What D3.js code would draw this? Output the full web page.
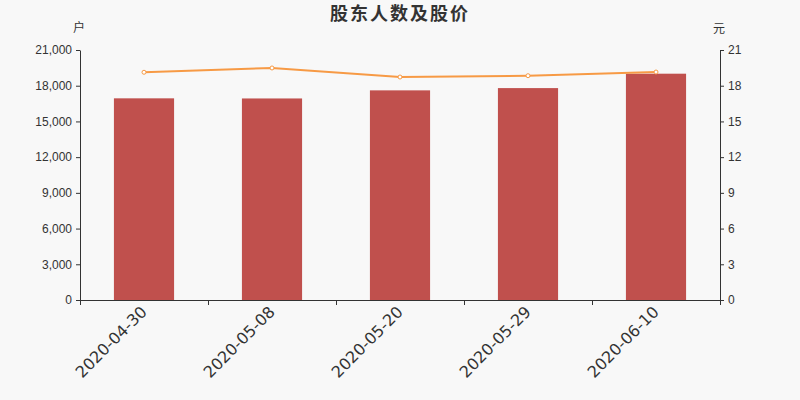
<!DOCTYPE html>
<html>
<head>
<meta charset="utf-8">
<script src="https://cdn.jsdelivr.net/npm/d3@7"></script>
<style>
  body { margin: 0; background: #f8f8f8; }
  svg { display: block; font-family: "DejaVu Sans", "Noto Sans CJK SC", sans-serif; }
  .axis text { fill: #333; font-size: 12px; }
  .axis path, .axis line { stroke: #333; }
</style>
</head>
<body>
<div id="the_chart"></div>
<script>
var dates = ["2020-04-30", "2020-05-08", "2020-05-20", "2020-05-29", "2020-06-10"];
var holders = [16940, 16930, 17610, 17800, 19010];
var prices = [19.13, 19.49, 18.73, 18.84, 19.15];
var leftTicks = [0, 3000, 6000, 9000, 12000, 15000, 18000, 21000];
var rightTicks = [0, 3, 6, 9, 12, 15, 18, 21];

var w = 800;
var h = 400;
var padL = 80, padR = 720, padT = 50, padB = 300;

var svg = d3.select("#the_chart")
  .append("svg")
  .attr("width", w)
  .attr("height", h);

svg.append("rect")
  .attr("width", w)
  .attr("height", h)
  .attr("fill", "#f8f8f8");

var xscale = d3.scaleBand()
  .domain(dates)
  .range([padL, padR])
  .paddingInner(0.53)
  .paddingOuter(0.265);

var yleft = d3.scaleLinear()
  .domain([0, 21000])
  .range([padB, padT]);

var yright = d3.scaleLinear()
  .domain([0, 21])
  .range([padB, padT]);

// title
svg.append("text")
  .attr("x", w / 2)
  .attr("y", 14)
  .attr("dy", "0.35em")
  .attr("text-anchor", "middle")
  .attr("font-family", "'Noto Sans CJK SC', sans-serif")
  .attr("font-size", 18)
  .attr("font-weight", "bold")
  .attr("letter-spacing", 2)
  .attr("fill", "#333")
  .text("股东人数及股价");

// units
svg.append("text")
  .attr("x", 79)
  .attr("y", 28)
  .attr("dy", "0.35em")
  .attr("text-anchor", "middle")
  .attr("font-family", "'Noto Sans CJK SC', sans-serif")
  .attr("font-size", 12)
  .attr("fill", "#333")
  .text("户");

svg.append("text")
  .attr("x", 719)
  .attr("y", 29)
  .attr("dy", "0.35em")
  .attr("text-anchor", "middle")
  .attr("font-family", "'Noto Sans CJK SC', sans-serif")
  .attr("font-size", 12)
  .attr("fill", "#333")
  .text("元");

// bars
svg.selectAll("rect.bar")
  .data(holders)
  .enter().append("rect")
  .attr("class", "bar")
  .attr("x", function (d, i) { return xscale(dates[i]); })
  .attr("width", xscale.bandwidth())
  .attr("y", function (d) { return yleft(d); })
  .attr("height", function (d) { return padB - yleft(d); })
  .attr("fill", "#c0504d");

// axes
var yaxis = d3.axisLeft(yleft)
  .tickValues(leftTicks)
  .tickSize(4)
  .tickSizeOuter(0)
  .tickPadding(4)
  .tickFormat(d3.format(","));

svg.append("g")
  .attr("class", "y axis")
  .attr("transform", "translate(" + padL + ",0)")
  .call(yaxis);

var yaxis2 = d3.axisRight(yright)
  .tickValues(rightTicks)
  .tickSize(4)
  .tickSizeOuter(0)
  .tickPadding(4)
  .tickFormat(d3.format("d"));

svg.append("g")
  .attr("class", "y axis")
  .attr("transform", "translate(" + padR + ",0)")
  .call(yaxis2);

// x axis
var xg = svg.append("g").attr("class", "x axis");
xg.append("line")
  .attr("x1", padL).attr("x2", padR)
  .attr("y1", padB + 0.5).attr("y2", padB + 0.5);

var bounds = d3.range(dates.length + 1).map(function (i) {
  return padL + i * xscale.step();
});
xg.selectAll("line.tick")
  .data(bounds)
  .enter().append("line")
  .attr("class", "tick")
  .attr("x1", function (d) { return Math.round(d) + 0.5; })
  .attr("x2", function (d) { return Math.round(d) + 0.5; })
  .attr("y1", padB)
  .attr("y2", padB + 5);

xg.selectAll("text")
  .data(dates)
  .enter().append("text")
  .attr("transform", function (d) {
    return "translate(" + (xscale(d) + xscale.bandwidth() / 2) + "," + (padB + 9) + ") rotate(-45)";
  })
  .attr("text-anchor", "end")
  .attr("dy", "0.35em")
  .style("font-size", "16px")
  .text(function (d) { return d; });

// price line
var line = d3.line()
  .x(function (d, i) { return xscale(dates[i]) + xscale.bandwidth() / 2; })
  .y(function (d) { return yright(d); });

svg.append("path")
  .datum(prices)
  .attr("d", line)
  .attr("fill", "none")
  .attr("stroke", "#f79a45")
  .attr("stroke-width", 2);

svg.selectAll("circle")
  .data(prices)
  .enter().append("circle")
  .attr("cx", function (d, i) { return xscale(dates[i]) + xscale.bandwidth() / 2; })
  .attr("cy", function (d) { return yright(d); })
  .attr("r", 2)
  .attr("fill", "#fff")
  .attr("stroke", "#f79a45")
  .attr("stroke-width", 1);
</script>
</body>
</html>
